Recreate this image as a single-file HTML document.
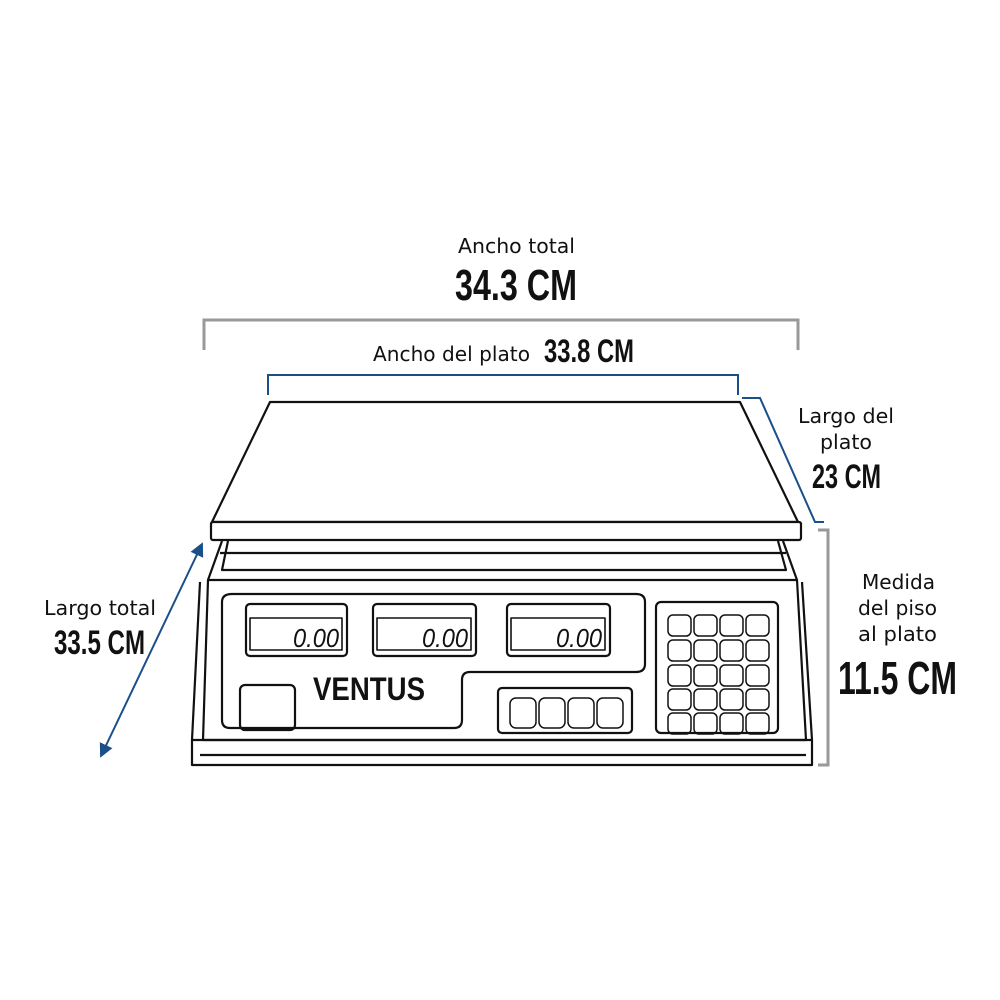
<!DOCTYPE html>
<html><head><style>
html,body{margin:0;padding:0;background:#fff}
svg{display:block}
.t{font-family:"DejaVu Sans","Liberation Sans",sans-serif;font-size:20px;fill:#111}
.b{font-family:"Liberation Sans",sans-serif;font-weight:bold;fill:#111}
.d{font-family:"Liberation Sans",sans-serif;font-style:italic;font-size:26px;fill:#111}
</style></head><body>
<svg width="1000" height="1000" viewBox="0 0 1000 1000" xmlns="http://www.w3.org/2000/svg">
<defs><marker id="ar" markerWidth="8" markerHeight="8" refX="6" refY="4" orient="auto-start-reverse"><path d="M0,0.5 L7,4 L0,7.5 Z" fill="#1a4f8a"/></marker></defs>
<!-- texts -->
<text class="t" x="458" y="253" textLength="117" lengthAdjust="spacingAndGlyphs">Ancho total</text>
<text class="b" x="455" y="300" font-size="44" textLength="122" lengthAdjust="spacingAndGlyphs">34.3 CM</text>
<text class="t" x="373" y="361" textLength="157" lengthAdjust="spacingAndGlyphs">Ancho del plato</text>
<text class="b" x="544" y="362" font-size="32" textLength="90" lengthAdjust="spacingAndGlyphs">33.8 CM</text>
<text class="t" x="798" y="423" textLength="96" lengthAdjust="spacingAndGlyphs">Largo del</text>
<text class="t" x="820" y="449" textLength="52" lengthAdjust="spacingAndGlyphs">plato</text>
<text class="b" x="812" y="488" font-size="34" textLength="69" lengthAdjust="spacingAndGlyphs">23 CM</text>
<text class="t" x="862" y="589" textLength="73" lengthAdjust="spacingAndGlyphs">Medida</text>
<text class="t" x="858" y="615" textLength="79" lengthAdjust="spacingAndGlyphs">del piso</text>
<text class="t" x="858" y="641" textLength="79" lengthAdjust="spacingAndGlyphs">al plato</text>
<text class="b" x="838" y="694" font-size="46" textLength="119" lengthAdjust="spacingAndGlyphs">11.5 CM</text>
<text class="t" x="44" y="615" textLength="112" lengthAdjust="spacingAndGlyphs">Largo total</text>
<text class="b" x="54" y="654" font-size="34" textLength="91" lengthAdjust="spacingAndGlyphs">33.5 CM</text>
<!-- dimension lines -->
<path d="M204,350 V320 H798 V350" fill="none" stroke="#999" stroke-width="3"/>
<path d="M268,395 V375 H738 V395" fill="none" stroke="#1a4f8a" stroke-width="2"/>
<path d="M742,398 H760 L815,522 H824" fill="none" stroke="#1a4f8a" stroke-width="2"/>
<path d="M818,530 H828 V765 H818" fill="none" stroke="#999" stroke-width="3"/>
<line x1="101" y1="756" x2="202" y2="544" stroke="#1a4f8a" stroke-width="2" marker-start="url(#ar)" marker-end="url(#ar)"/>
<!-- scale -->
<g fill="none" stroke="#111" stroke-width="2.2" stroke-linejoin="round">
<path d="M270,402 H740 L798,522 H212 Z" fill="#fff"/>
<rect x="211" y="522" width="590" height="18" rx="2" fill="#fff"/>
<path d="M222,541 L208,580 L203,740 H806 L797,580 L783,541"/>
<path d="M228,541 L222,570 H786 L778,541"/>
<path d="M220,553 H786"/>
<path d="M208,580 H797"/>
<path d="M192,740 L200,582 M812,740 L802,582"/>
<path d="M192,740 V765 H812 V740 Z"/>
<path d="M200,755 H806"/>
<path d="M232,594 H636 Q645,594 645,602 V664 Q645,672 636,672 H470 Q462,672 462,680 V720 Q462,728 454,728 H230 Q222,728 222,720 V602 Q222,594 232,594 Z"/>
<rect x="246" y="604" width="101" height="52" rx="4"/>
<rect x="250" y="618" width="92" height="32" stroke-width="1.6"/>
<rect x="373" y="604" width="103" height="52" rx="4"/>
<rect x="377" y="618" width="94" height="32" stroke-width="1.6"/>
<rect x="507" y="604" width="103" height="52" rx="4"/>
<rect x="511" y="618" width="94" height="32" stroke-width="1.6"/>
<rect x="240" y="685" width="55" height="45" rx="5"/>
<rect x="498" y="688" width="134" height="45" rx="4"/>
<g stroke-width="1.5">
<rect x="510" y="698" width="26" height="30" rx="6"/><rect x="539" y="698" width="26" height="30" rx="6"/><rect x="568" y="698" width="26" height="30" rx="6"/><rect x="597" y="698" width="26" height="30" rx="6"/>
</g>
<rect x="656" y="602" width="122" height="131" rx="5"/>
<g stroke-width="1.5">
<rect x="668" y="615" width="23" height="21" rx="5"/><rect x="694" y="615" width="23" height="21" rx="5"/><rect x="720" y="615" width="23" height="21" rx="5"/><rect x="746" y="615" width="23" height="21" rx="5"/>
<rect x="668" y="640" width="23" height="21" rx="5"/><rect x="694" y="640" width="23" height="21" rx="5"/><rect x="720" y="640" width="23" height="21" rx="5"/><rect x="746" y="640" width="23" height="21" rx="5"/>
<rect x="668" y="665" width="23" height="21" rx="5"/><rect x="694" y="665" width="23" height="21" rx="5"/><rect x="720" y="665" width="23" height="21" rx="5"/><rect x="746" y="665" width="23" height="21" rx="5"/>
<rect x="668" y="689" width="23" height="21" rx="5"/><rect x="694" y="689" width="23" height="21" rx="5"/><rect x="720" y="689" width="23" height="21" rx="5"/><rect x="746" y="689" width="23" height="21" rx="5"/>
<rect x="668" y="713" width="23" height="21" rx="5"/><rect x="694" y="713" width="23" height="21" rx="5"/><rect x="720" y="713" width="23" height="21" rx="5"/><rect x="746" y="713" width="23" height="21" rx="5"/>
</g>
</g>
<text class="d" x="293" y="647" textLength="46" lengthAdjust="spacingAndGlyphs">0.00</text>
<text class="d" x="422" y="647" textLength="46" lengthAdjust="spacingAndGlyphs">0.00</text>
<text class="d" x="556" y="647" textLength="46" lengthAdjust="spacingAndGlyphs">0.00</text>
<text x="313" y="700" font-family="Liberation Sans, sans-serif" font-weight="bold" font-size="32" fill="#111" textLength="112" lengthAdjust="spacingAndGlyphs">VENTUS</text>
</svg>
</body></html>
